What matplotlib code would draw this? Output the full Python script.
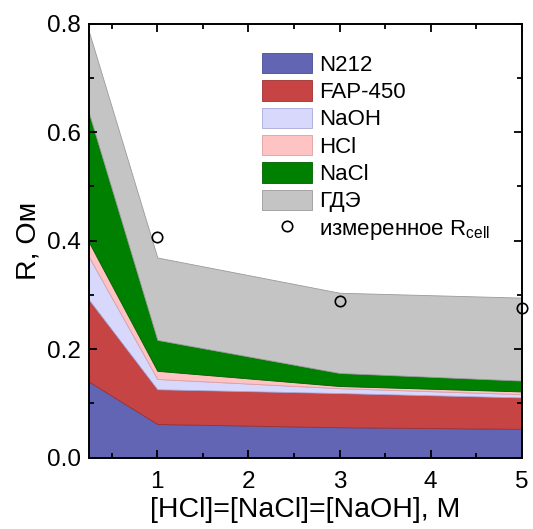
import numpy as np
import matplotlib
matplotlib.use("Agg")
import matplotlib.pyplot as plt
from matplotlib.patches import Patch
from matplotlib.lines import Line2D
from matplotlib.ticker import MultipleLocator

plt.rcParams['font.family'] = ['Liberation Sans', 'DejaVu Sans']
plt.rcParams['mathtext.fontset'] = 'custom'
plt.rcParams['mathtext.rm'] = 'Liberation Sans'
plt.rcParams['mathtext.it'] = 'Liberation Sans'

# concentration, M
conc = [0.25, 1, 3, 5]
# resistance contributions, Ohm
n212 = [0.140, 0.062, 0.056, 0.053]
fap450 = [0.151, 0.064, 0.063, 0.058]
naoh = [0.079, 0.019, 0.009, 0.006]
hcl = [0.027, 0.015, 0.004, 0.005]
nacl = [0.238, 0.057, 0.024, 0.020]
gde = [0.150, 0.152, 0.148, 0.153]
# measured cell resistance
meas_x = [1, 3, 5]
meas_r = [0.407, 0.289, 0.275]

labels = ['N212', 'FAP-450', 'NaOH', 'HCl', 'NaCl', 'ГДЭ']
colors = ['#6264b4', '#c64444', '#d8d8fc', '#fec4c4', '#008000', '#c4c4c4']
edges = ['#4a4c96', '#a03030', '#a8a8d8', '#e0a0a0', '#006000', '#9a9a9a']

fig = plt.figure(figsize=(5.33, 5.29), dpi=100)
ax = fig.add_axes([0.167, 0.135, 0.812, 0.82])

layers = [n212, fap450, naoh, hcl, nacl, gde]
bottom = np.zeros(len(conc))
for vals, c, e in zip(layers, colors, edges):
    top = bottom + np.array(vals)
    ax.fill_between(conc, bottom, top, facecolor=c, edgecolor=e, linewidth=0.6)
    bottom = top

ax.plot(meas_x, meas_r, 'o', mfc='none', mec='black', ms=7.5, mew=1.2,
        clip_on=False, zorder=5)

ax.set_xlim(0.25, 5)
ax.set_ylim(0, 0.8)
ax.xaxis.set_major_locator(MultipleLocator(1))
ax.xaxis.set_minor_locator(MultipleLocator(0.5))
ax.yaxis.set_major_locator(MultipleLocator(0.2))
ax.yaxis.set_minor_locator(MultipleLocator(0.1))
ax.tick_params(which='both', direction='in', top=True, right=True, width=1.3)
ax.tick_params(which='major', length=6, labelsize=17.5)
ax.tick_params(which='minor', length=3.5)
ax.tick_params(axis='x', pad=10)
ax.tick_params(axis='y', pad=6)
for s in ax.spines.values():
    s.set_linewidth(1.4)

ax.set_ylabel('R, Ом', fontsize=20.5, labelpad=4)
ax.set_xlabel('[HCl]=[NaCl]=[NaOH], M', fontsize=20.5, labelpad=2.5)

handles = [Patch(facecolor=c, edgecolor=e, linewidth=0.6) for c, e in zip(colors, edges)]
handles.append(Line2D([], [], ls='none', marker='o', mfc='none', mec='black', ms=7.5, mew=1.2))
ax.legend(handles, labels + ['измеренное R$_{\\mathrm{cell}}$'],
          loc='upper left', bbox_to_anchor=(0.40, 0.933), frameon=False,
          fontsize=16, handlelength=2.25, handleheight=1.05, labelspacing=0.2,
          handletextpad=0.3, borderaxespad=0, borderpad=0)

fig.savefig('out.png', dpi=100)
